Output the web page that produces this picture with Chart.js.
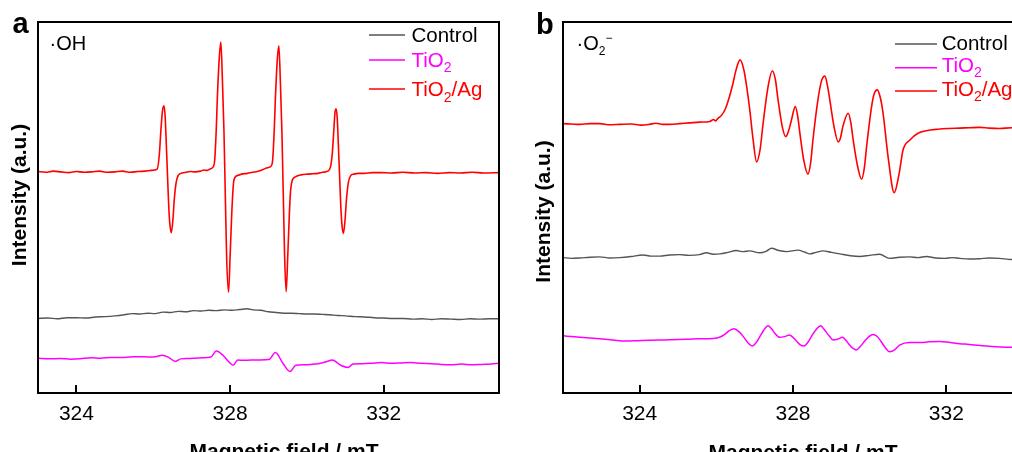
<!DOCTYPE html>
<html><head><meta charset="utf-8">
<script src="https://cdn.jsdelivr.net/npm/chart.js@4.4.1/dist/chart.umd.min.js"></script>
<style>
html,body{margin:0;padding:0;background:#fff;overflow:hidden;width:1012px;height:452px;position:relative;}
#wa{position:absolute;left:0;top:0;width:506px;height:452px;}
#wb{position:absolute;left:506px;top:0;width:530px;height:452px;}
canvas{display:block;}
</style></head><body>
<div id="wa"><canvas id="ca" width="506" height="452"></canvas></div>
<div id="wb"><canvas id="cb" width="530" height="452"></canvas></div>
<script>
// ---------- data (magnetic field in mT, intensity in a.u.) ----------
const tickValues = [324, 328, 332];
const seriesNames = ['Control', 'TiO2', 'TiO2/Ag'];

// Panel a: ·OH
const aCtrlX = [323.00,323.25,323.50,323.75,324.00,324.25,324.50,324.75,325.00,325.25,325.45,325.65,325.85,326.05,326.25,326.45,326.65,326.85,327.05,327.25,327.45,327.65,327.85,328.05,328.25,328.45,328.60,328.80,329.00,329.20,329.40,329.60,329.80,330.00,330.20,330.40,330.60,330.80,331.00,331.25,331.50,331.75,332.00,332.25,332.50,332.75,333.00,333.25,333.50,333.75,334.00,334.25,334.50,334.75,335.00];
const aCtrlY = [20.1,20.2,20.0,20.3,20.3,20.2,20.5,20.6,20.8,21.1,21.4,21.3,21.5,21.4,21.8,21.7,22.0,21.9,22.2,22.1,22.3,22.2,22.4,22.3,22.5,22.7,22.4,22.3,21.9,21.7,21.5,21.5,21.4,21.3,21.3,21.2,21.1,20.9,20.8,20.6,20.5,20.3,20.2,20.1,20.1,19.9,20.0,19.8,20.0,19.9,19.8,20.0,19.9,20.0,20.0];

const aTiX = [323.00,323.30,323.58,323.85,324.10,324.37,324.63,324.90,325.15,325.40,325.67,325.90,326.06,326.24,326.40,326.58,326.71,326.90,327.10,327.30,327.50,327.64,327.81,327.97,328.08,328.20,328.37,328.54,328.78,329.01,329.18,329.37,329.56,329.71,329.90,330.10,330.30,330.50,330.66,330.89,331.07,331.20,331.45,331.67,331.95,332.20,332.45,332.70,332.97,333.25,333.50,333.75,334.02,334.30,334.54,334.80,335.00];
const aTiY = [9.4,9.2,9.3,9.1,9.2,9.5,9.4,9.6,9.6,9.7,9.8,9.7,9.8,10.2,9.6,8.5,9.2,9.3,9.4,9.5,9.7,11.3,10.2,8.4,7.5,8.9,8.8,8.9,8.9,9.0,10.9,8.1,5.8,7.5,7.6,7.7,7.9,8.4,8.9,7.4,6.9,7.8,7.9,8.0,8.2,8.0,8.1,8.2,8.0,7.9,7.7,7.6,7.8,7.6,7.7,7.8,8.0];

const aAgX = [323.00,323.20,323.40,323.60,323.80,324.00,324.20,324.40,324.60,324.80,325.00,325.20,325.40,325.60,325.80,325.95,326.10,326.16,326.20,326.24,326.28,326.31,326.34,326.37,326.40,326.43,326.47,326.51,326.55,326.60,326.66,326.75,326.85,326.97,327.10,327.23,327.32,327.40,327.48,327.55,327.60,327.64,327.67,327.72,327.76,327.80,327.84,327.88,327.91,327.96,328.00,328.04,328.07,328.10,328.19,328.30,328.45,328.58,328.71,328.83,328.93,329.00,329.07,329.11,329.15,329.18,329.23,329.27,329.31,329.35,329.39,329.42,329.46,329.50,329.54,329.57,329.61,329.71,329.85,330.02,330.15,330.28,330.41,330.54,330.61,330.66,330.70,330.73,330.76,330.79,330.82,330.85,330.88,330.91,330.95,330.99,331.03,331.08,331.14,331.22,331.35,331.49,331.71,331.93,332.20,332.50,332.80,333.10,333.40,333.70,334.00,334.30,334.60,335.00];
const aAgY = [59.7,59.5,59.8,59.6,59.4,59.7,59.5,59.6,59.8,59.5,59.6,59.8,59.5,59.7,59.8,60.0,60.3,64.5,71.0,76.0,77.4,74.5,67.0,59.0,51.0,45.8,43.2,46.5,52.5,57.0,58.8,59.3,59.5,59.7,59.6,59.8,60.1,60.0,60.4,60.8,62.8,71.0,79.9,90.6,94.6,84.4,70.9,51.2,36.7,27.2,36.7,47.5,53.8,57.4,58.6,59.0,59.2,59.5,59.7,60.1,60.6,60.8,61.2,63.0,71.0,79.5,90.0,93.6,83.6,70.0,50.8,36.6,27.3,36.6,47.5,53.8,57.0,58.3,58.8,59.0,59.1,59.2,59.5,59.8,60.8,64.5,70.8,75.5,76.6,74.0,66.5,58.8,50.8,45.6,43.0,46.3,52.3,56.8,58.6,59.0,59.2,59.2,59.4,59.4,59.3,59.5,59.3,59.4,59.2,59.4,59.3,59.5,59.3,59.4];

// Panel b: ·O2−
const bCtrlX = [322.00,322.22,322.44,322.70,322.96,323.22,323.48,323.78,324.08,324.30,324.52,324.78,325.04,325.30,325.56,325.74,325.92,326.09,326.30,326.52,326.70,326.87,327.13,327.30,327.44,327.63,327.83,328.13,328.30,328.44,328.60,328.78,329.00,329.22,329.50,329.74,330.00,330.26,330.52,330.78,331.04,331.26,331.48,331.72,331.96,332.15,332.35,332.60,332.87,333.12,333.39,333.70,334.00];
const bCtrlY = [36.5,36.3,36.4,36.6,36.7,36.4,36.5,36.8,37.2,36.9,36.9,37.2,37.3,37.1,37.3,37.8,37.4,37.5,37.9,38.4,38.1,38.3,37.8,38.2,39.0,38.4,38.1,38.5,38.0,37.5,37.9,38.3,37.9,37.5,37.0,36.8,37.1,37.4,36.3,36.6,36.7,36.5,36.8,36.4,36.3,36.5,36.3,36.1,36.2,36.4,36.3,36.0,36.0];

const bTiX = [322.00,322.22,322.44,322.70,322.96,323.30,323.65,323.95,324.26,324.65,325.04,325.30,325.56,325.91,326.10,326.22,326.34,326.46,326.58,326.69,326.82,326.94,327.04,327.13,327.24,327.35,327.44,327.52,327.65,327.78,327.91,328.00,328.09,328.19,328.29,328.39,328.49,328.61,328.72,328.80,328.88,328.96,329.04,329.16,329.29,329.38,329.48,329.57,329.65,329.76,329.87,329.98,330.09,330.19,330.29,330.41,330.52,330.65,330.78,331.04,331.31,331.55,331.83,332.10,332.35,332.60,332.87,333.12,333.39,333.70,334.00];
const bTiY = [15.4,15.2,15.0,14.8,14.6,14.3,14.0,14.1,14.2,14.3,14.4,14.5,14.6,14.7,15.1,15.8,16.8,17.3,16.6,15.4,13.6,12.7,13.6,15.1,17.0,18.1,17.3,16.2,15.0,15.2,15.6,15.0,14.0,13.0,12.7,13.7,15.4,17.2,18.1,17.3,16.2,15.2,14.3,14.5,15.0,14.2,12.9,12.0,11.6,12.6,14.0,15.2,15.8,15.3,14.0,12.2,11.1,11.6,12.9,13.6,13.6,13.8,13.9,13.6,13.3,13.1,12.8,12.6,12.4,12.3,12.3];

const bAgX = [322.00,322.22,322.44,322.70,322.96,323.22,323.48,323.78,324.03,324.25,324.42,324.60,324.78,325.04,325.30,325.56,325.83,325.93,325.98,326.03,326.14,326.24,326.34,326.43,326.52,326.62,326.72,326.80,326.87,326.96,327.05,327.14,327.22,327.35,327.46,327.54,327.61,327.72,327.81,327.89,327.96,328.06,328.12,328.18,328.28,328.39,328.46,328.52,328.65,328.74,328.83,328.90,328.96,329.07,329.18,329.24,329.30,329.44,329.51,329.57,329.67,329.79,329.86,329.92,330.05,330.12,330.20,330.28,330.35,330.48,330.64,330.77,330.87,331.05,331.26,331.48,331.78,332.05,332.35,332.60,332.87,333.12,333.39,333.70,334.00];
const bAgY = [72.6,72.5,72.4,72.6,72.6,72.3,72.4,72.5,72.2,72.4,72.7,72.4,72.4,72.6,72.8,73.0,73.2,73.7,73.3,73.9,74.9,76.7,79.8,83.3,87.3,89.8,87.0,82.0,76.5,68.2,62.3,65.5,72.7,82.6,86.8,84.5,79.0,71.8,69.1,70.8,73.6,77.2,74.8,70.0,62.8,59.0,62.0,68.2,79.0,84.0,85.4,82.8,79.0,71.8,67.7,68.8,71.8,75.4,72.8,68.2,61.9,57.6,60.6,66.4,77.2,80.7,81.7,79.5,75.4,63.7,54.0,59.2,65.5,68.2,70.0,70.7,71.1,71.3,71.4,71.5,71.6,71.4,71.3,71.5,71.5];

// ---------- helpers ----------
const FONT = '"Liberation Sans", Arial, Helvetica, sans-serif';
const COL = { ctrl: '#555555', ti: '#ff00ff', ag: '#ff0000' };
const zip = (xs, ys) => xs.map((x, i) => ({ x, y: ys[i] }));

function drawParts(ctx, x, y, parts, color) {
  ctx.fillStyle = color;
  ctx.textAlign = 'left';
  ctx.textBaseline = 'alphabetic';
  let cx = x;
  for (const p of parts) {
    ctx.font = (p.bold ? 'bold ' : '') + p.s + 'px ' + FONT;
    ctx.fillText(p.t, cx, y + (p.dy || 0));
    cx += ctx.measureText(p.t).width + (p.gap || 0);
  }
}

function legendParts(name, size) {
  const sub = Math.round(size * 0.68);
  if (name === 'Control') return [{ t: 'Control', s: size }];
  if (name === 'TiO2') return [{ t: 'TiO', s: size }, { t: '2', s: sub, dy: 5.5 }];
  return [{ t: 'TiO', s: size }, { t: '2', s: sub, dy: 5.5 }, { t: '/Ag', s: size }];
}

function overlay(cfg) {
  return {
    id: 'overlay',
    afterDatasetsDraw(chart) {
      const { ctx, chartArea: ca, scales: { x } } = chart;
      ctx.save();
      ctx.strokeStyle = '#000';
      ctx.lineWidth = 2;
      // inward ticks
      for (const v of tickValues) {
        const px = Math.round(x.getPixelForValue(v));
        ctx.beginPath();
        ctx.moveTo(px, ca.bottom);
        ctx.lineTo(px, ca.bottom - 8);
        ctx.stroke();
      }
      // frame
      ctx.strokeRect(ca.left, ca.top, ca.right - ca.left, ca.bottom - ca.top);
      // legend
      const cols = [COL.ctrl, COL.ti, COL.ag];
      const txtCols = ['#000000', COL.ti, COL.ag];
      seriesNames.forEach((n, i) => {
        ctx.strokeStyle = cols[i];
        ctx.lineWidth = 1.5;
        ctx.beginPath();
        ctx.moveTo(cfg.legX1, cfg.legLineY[i]);
        ctx.lineTo(cfg.legX2, cfg.legLineY[i]);
        ctx.stroke();
        drawParts(ctx, cfg.legTX, cfg.legBase[i], legendParts(n, cfg.legSize), txtCols[i]);
      });
      // panel letter
      drawParts(ctx, cfg.letterX, cfg.letterY, [{ t: cfg.letter, s: 29, bold: true }], '#000');
      // species label
      drawParts(ctx, cfg.specX, cfg.specY, cfg.specParts, '#000');
      // axis titles
      ctx.fillStyle = '#000';
      ctx.font = 'bold 21px ' + FONT;
      ctx.textAlign = 'center';
      ctx.textBaseline = 'alphabetic';
      ctx.fillText('Magnetic field / mT', cfg.xtX, cfg.xtY);
      ctx.translate(cfg.ytX, cfg.ytY);
      ctx.rotate(-Math.PI / 2);
      ctx.fillText('Intensity (a.u.)', 0, 0);
      ctx.restore();
    }
  };
}

function makeChart(id, xmin, xmax, ctrl, ti, ag, pad, cfg) {
  const ds = (data, color, w) => ({
    data, borderColor: color, borderWidth: w, pointRadius: 0, fill: false,
    cubicInterpolationMode: 'monotone', tension: 0
  });
  return new Chart(document.getElementById(id), {
    type: 'line',
    data: {
      datasets: [
        Object.assign(ds(ctrl, COL.ctrl, 1.4), { label: seriesNames[0] }),
        Object.assign(ds(ti, COL.ti, 1.5), { label: seriesNames[1] }),
        Object.assign(ds(ag, COL.ag, 1.6), { label: seriesNames[2] })
      ]
    },
    options: {
      responsive: false, animation: false, devicePixelRatio: 1,
      layout: { padding: pad },
      plugins: { legend: { display: false }, tooltip: { enabled: false } },
      scales: {
        x: {
          type: 'linear', min: xmin, max: xmax, position: 'bottom',
          grid: { display: false, drawTicks: false },
          border: { display: false },
          ticks: {
            color: '#000', font: { family: FONT, size: 21 }, padding: 9,
            maxRotation: 0, autoSkip: false, callback: v => String(v)
          },
          afterBuildTicks: s => { s.ticks = tickValues.map(v => ({ value: v })); },
          afterFit: s => { s.height = 59; }
        },
        y: { type: 'linear', min: 0, max: 100, display: false }
      }
    },
    plugins: [overlay(cfg)]
  });
}

makeChart('ca', 323, 335, zip(aCtrlX, aCtrlY), zip(aTiX, aTiY), zip(aAgX, aAgY),
  { left: 38, right: 7, top: 22, bottom: 0 },
  {
    legX1: 369, legX2: 405, legLineY: [35, 60, 89], legTX: 411.5, legBase: [41.7, 66.7, 96], legSize: 20.5,
    letter: 'a', letterX: 12.5, letterY: 33,
    specX: 49.5, specY: 50, specParts: [{ t: '·OH', s: 20 }],
    xtX: 284, xtY: 458, ytX: 25.5, ytY: 195
  });

makeChart('cb', 322, 334, zip(bCtrlX, bCtrlY), zip(bTiX, bTiY), zip(bAgX, bAgY),
  { left: 57, right: 13, top: 22, bottom: 0 },
  {
    legX1: 389, legX2: 431, legLineY: [44, 67.7, 91], legTX: 435.7, legBase: [50, 71.7, 95.7], legSize: 20.5,
    letter: 'b', letterX: 30, letterY: 34,
    specX: 70.5, specY: 50, specParts: [{ t: '·O', s: 20 }, { t: '2', s: 12, dy: 5 }, { t: '\u2212', s: 12, dy: -8 }],
    xtX: 297, xtY: 459, ytX: 43.6, ytY: 211.5
  });
</script>
</body></html>
